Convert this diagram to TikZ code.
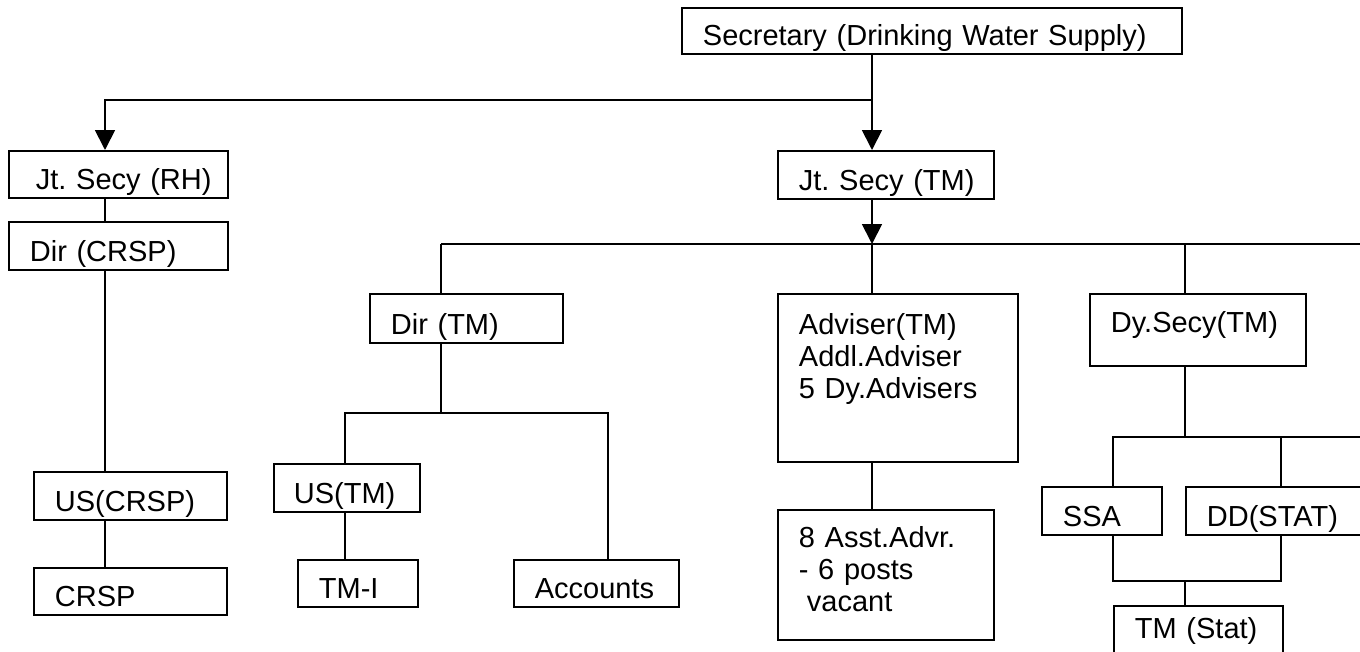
\documentclass[tikz,border=0pt]{standalone}
\usepackage{fontspec}
\setmainfont{Liberation Sans}
\usepackage{tikz}
\usetikzlibrary{arrows.meta}

\begin{document}
\begin{tikzpicture}[x=1pt,y=-1pt]
          \tikzstyle{post}=[rectangle,draw=black,line width=1.8pt,anchor=north west,
                            inner xsep=21pt,inner ysep=0pt,align=left,
                            font=\fontsize{29}{32}\selectfont\frenchspacing]
          \tikzstyle{link}=[line width=1.8pt]
          \tikzstyle{down}=[line width=1.8pt,-{Triangle[width=20pt,length=20pt]}]

          \useasboundingbox (0,0) rectangle (1360,651);
          \clip (0,0) rectangle (1360,651);

          % top of the chart
          \node[post,text width=458pt,text height=38pt,text depth=8pt](sec) at (681,7){Secretary (Drinking Water Supply)};
          \node[post,inner xsep=15pt,text width=189pt,text height=39pt,text depth=8pt](jsrh) at (8,150){\hspace*{12pt}Jt. Secy (RH)};
          \node[post,inner xsep=15pt,text width=186pt,text height=40pt,text depth=8pt](jstm) at (777,150){\hspace*{6pt}Jt. Secy (TM)};

          % RH side
          \node[post,text width=177pt,text height=40pt,text depth=8pt](dircrsp) at (8,221){Dir (CRSP)};
          \node[post,text width=151pt,text height=40pt,text depth=8pt](uscrsp) at (33,471){US(CRSP)};
          \node[post,text width=151pt,text height=39pt,text depth=8pt](crsp) at (33,567){CRSP};

          % TM side
          \node[post,text width=151pt,text height=41pt,text depth=8pt](dirtm) at (369,293){Dir (TM)};
          \node[post,inner xsep=15pt,text width=116pt,text height=40pt,text depth=8pt](ustm) at (273,463){\hspace*{5pt}US(TM)};
          \node[post,text width=78pt,text height=39pt,text depth=8pt](tmi) at (297,559){TM-I};
          \node[post,text width=123pt,text height=39pt,text depth=8pt](accts) at (513,559){Accounts};

          \node[post,text width=198pt,text height=41pt,text depth=127pt](advtm) at (777,293){Adviser(TM)\\Addl.Adviser\\5 Dy.Advisers};
          \node[post,text width=174pt,text height=38pt,text depth=92pt](asst) at (777,509){8 Asst.Advr.\\- 6 posts\\\hspace*{8pt}vacant};

          \node[post,text width=174pt,text height=39pt,text depth=33pt](dysecy) at (1089,293){Dy.Secy(TM)};
          \node[post,text width=78pt,text height=40pt,text depth=8pt](ssa) at (1041,486){SSA};
          \node[post,text width=148pt,text height=40pt,text depth=8pt](ddstat) at (1185,486){DD(STAT)};
          \node[post,text width=127pt,text height=33pt,text depth=17pt](tmstat) at (1113,605){TM (Stat)};

          % junctions
          \coordinate (split) at (872,100);
          \coordinate (rh) at (105,100);
          \coordinate (bar2) at (872,244);
          \coordinate (rim) at (1375,244);
          \coordinate (bar3) at (441,413);
          \coordinate (colus) at (345,413);
          \coordinate (colac) at (608,413);
          \coordinate (bar4) at (1185,437);
          \coordinate (colss) at (1113,437);
          \coordinate (coldd) at (1281,437);
          \coordinate (join) at (1185,581);

          \draw[down] (sec.south -| split) -- (split |- jstm.north);
          \draw[down] (split) -- (rh) -- (rh |- jsrh.north);
          \draw[down] (jstm.south -| bar2) -- (bar2);

          \draw[link] (jsrh.south -| rh) -- (dircrsp.north -| rh);
          \draw[link] (dircrsp.south -| rh) -- (uscrsp.north -| rh);
          \draw[link] (uscrsp.south -| rh) -- (crsp.north -| rh);

          \draw[link] (bar2 -| bar3) -- (rim);
          \draw[link] (bar2 -| bar3) -- (dirtm.north -| bar3);
          \draw[link] (bar2) -- (advtm.north -| bar2);
          \draw[link] (bar2 -| bar4) -- (dysecy.north -| bar4);
          \draw[link] (advtm.south -| bar2) -- (asst.north -| bar2);

          \draw[link] (dirtm.south -| bar3) -- (bar3);
          \draw[link] (ustm.north -| colus) -- (colus) -- (colac) -- (accts.north -| colac);
          \draw[link] (ustm.south -| colus) -- (tmi.north -| colus);

          \draw[link] (dysecy.south -| bar4) -- (bar4);
          \draw[link] (ssa.north -| colss) -- (colss) -- (bar4 -| rim);
          \draw[link] (coldd) -- (ddstat.north -| coldd);
          \draw[link] (ssa.south -| colss) |- (join) -| (ddstat.south -| coldd);
          \draw[link] (join) -- (tmstat.north -| join);
\end{tikzpicture}
\end{document}
